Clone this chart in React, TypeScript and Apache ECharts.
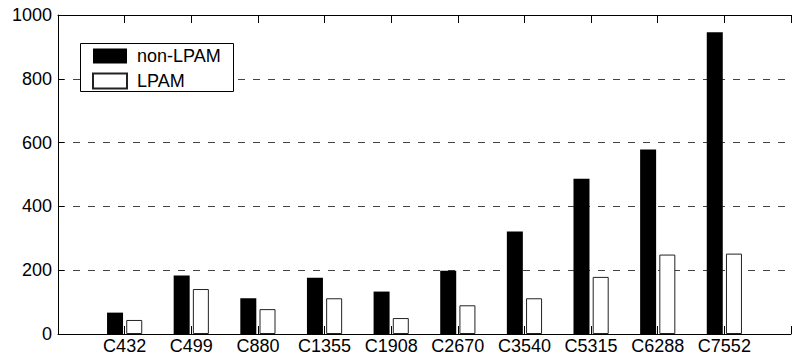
import React, { useEffect, useRef } from "react";
import * as echarts from "echarts";

const categories = ["C432", "C499", "C880", "C1355", "C1908", "C2670", "C3540", "C5315", "C6288", "C7552"];
const nonLpam = [67, 183, 112, 176, 133, 198, 321, 487, 578, 946];
const lpam = [44, 141, 78, 112, 50, 90, 112, 179, 249, 252];
const yTicks = { min: 0, max: 1000, interval: 200 };

const FONT = "'Liberation Sans', Arial, Helvetica, sans-serif";

export default function App() {
  const ref = useRef<HTMLDivElement>(null);
  useEffect(() => {
    if (!ref.current) return;
    const chart = echarts.init(ref.current, undefined, { renderer: "svg" });
    const axisData = ["", ...categories, ""];
    const pad = (arr: number[]) => ["-", ...arr, "-"];
    chart.setOption({
      animation: false,
      backgroundColor: "#ffffff",
      textStyle: { fontFamily: FONT },
      grid: { left: 58, top: 15, bottom: 26, right: -10, containLabel: false },
      xAxis: [
        {
          type: "category",
          data: axisData,
          boundaryGap: false,
          position: "bottom",
          axisLine: { show: true, lineStyle: { color: "#000", width: 1 } },
          axisTick: { show: true, inside: true, length: 8, lineStyle: { color: "#000" } },
          axisLabel: { color: "#000", fontSize: 18, fontFamily: FONT, margin: 3, interval: 0 },
          splitLine: { show: false },
        },
        {
          type: "category",
          data: axisData,
          boundaryGap: false,
          position: "top",
          axisLine: { show: true, lineStyle: { color: "#000", width: 1 } },
          axisTick: { show: true, inside: true, length: 8, lineStyle: { color: "#000" } },
          axisLabel: { show: false },
          splitLine: { show: false },
        },
      ],
      yAxis: {
        type: "value",
        min: yTicks.min,
        max: yTicks.max,
        interval: yTicks.interval,
        axisLine: { show: true, lineStyle: { color: "#000", width: 1 } },
        axisTick: { show: true, inside: true, length: 6, lineStyle: { color: "#000" } },
        axisLabel: {
          color: "#000",
          fontSize: 18,
          fontFamily: FONT,
          margin: 6,
          formatter: (v: number) => String(v),
        },
        splitLine: { show: true, lineStyle: { color: "#444", width: 1, type: [7, 8] } },
      },
      legend: {
        orient: "vertical",
        left: 92,
        top: 47,
        padding: 0,
        itemWidth: 34,
        itemHeight: 15,
        itemGap: 7,
        icon: "rect",
        z: 5,
        textStyle: { color: "#000", fontSize: 18, fontFamily: FONT, padding: [0, 0, 0, 5] },
        data: ["non-LPAM", "LPAM"],
      },
      graphic: [
        {
          type: "rect",
          z: 3,
          shape: { x: 80.5, y: 43.5, width: 153, height: 48 },
          style: { fill: "#fff", stroke: "#000", lineWidth: 1 },
        },
      ],
      series: [
        {
          name: "non-LPAM",
          type: "bar",
          data: pad(nonLpam),
          barWidth: 16,
          barGap: "20%",
          itemStyle: { color: "#000", borderColor: "#000", borderWidth: 0 },
        },
        {
          name: "LPAM",
          type: "bar",
          data: pad(lpam),
          barWidth: 16,
          barGap: "20%",
          itemStyle: { color: "#fff", borderColor: "#222", borderWidth: 1 },
        },
      ],
    });
    return () => chart.dispose();
  }, []);
  return (
    <div
      ref={ref}
      style={{ position: "fixed", left: 0, top: 0, width: 794, height: 360, background: "#fff" }}
    />
  );
}
